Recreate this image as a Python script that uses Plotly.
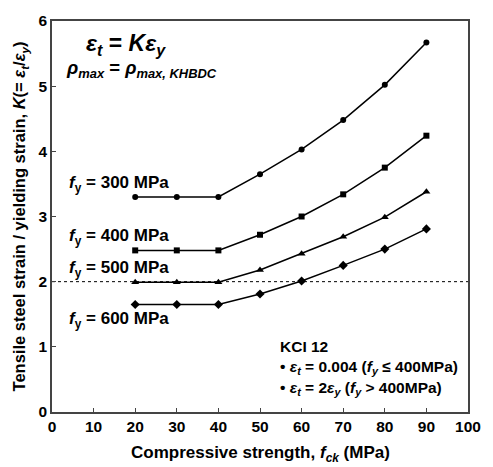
import plotly.graph_objects as go

fck = [20, 30, 40, 50, 60, 70, 80, 90]
k_fy300 = [3.30, 3.30, 3.30, 3.65, 4.03, 4.48, 5.02, 5.67]
k_fy400 = [2.48, 2.48, 2.48, 2.72, 3.00, 3.34, 3.75, 4.24]
k_fy500 = [1.99, 1.99, 1.99, 2.18, 2.43, 2.69, 2.99, 3.38]
k_fy600 = [1.65, 1.65, 1.65, 1.81, 2.01, 2.25, 2.50, 2.81]
series_labels = ["300", "400", "500", "600"]
label_y = [3.50, 2.69, 2.20, 1.41]
x_ticks = [0, 10, 20, 30, 40, 50, 60, 70, 80, 90, 100]
y_ticks = [0, 1, 2, 3, 4, 5, 6]
ref_k = 2.0

FONT = "Liberation Sans, Arial, sans-serif"
series = [(k_fy300, "circle", 6), (k_fy400, "square", 6), (k_fy500, "triangle-up", 7), (k_fy600, "diamond", 7)]

fig = go.Figure()
fig.add_trace(go.Scatter(x=[0, 100], y=[ref_k, ref_k], mode="lines",
                         line=dict(color="black", width=1, dash="dot"), showlegend=False))
for ys, sym, sz in series:
    fig.add_trace(go.Scatter(x=fck, y=ys, mode="lines+markers",
                             line=dict(color="black", width=1.5),
                             marker=dict(symbol=sym, size=sz, color="black"),
                             showlegend=False))

for lab, ly in zip(series_labels, label_y):
    fig.add_annotation(x=3.5, y=ly, xref="x", yref="y", xanchor="left", yanchor="middle",
                       text=f"<b><i>f</i><sub>y</sub> = {lab} MPa</b>", showarrow=False,
                       font=dict(family=FONT, size=17, color="black"))

fig.add_annotation(x=7.7, y=5.64, xref="x", yref="y", xanchor="left", yanchor="middle",
                   text="<b><i>ε<sub>t</sub></i> = <i>Kε<sub>y</sub></i></b>", showarrow=False,
                   font=dict(family=FONT, size=23, color="black"))
fig.add_annotation(x=3.0, y=5.26, xref="x", yref="y", xanchor="left", yanchor="middle",
                   text="<b><i>ρ<sub>max</sub></i> = <i>ρ<sub>max, KHBDC</sub></i></b>", showarrow=False,
                   font=dict(family=FONT, size=18.5, color="black"))

fig.add_annotation(x=54.3, y=1.01, xref="x", yref="y", xanchor="left", yanchor="middle",
                   text="<b>KCI 12</b>", showarrow=False,
                   font=dict(family=FONT, size=15.5, color="black"))
fig.add_annotation(x=54.3, y=0.68, xref="x", yref="y", xanchor="left", yanchor="middle",
                   text="<b>• <i>ε<sub>t</sub></i> = 0.004 (<i>f<sub>y</sub></i> ≤ 400MPa)</b>", showarrow=False,
                   font=dict(family=FONT, size=15.5, color="black"))
fig.add_annotation(x=54.3, y=0.36, xref="x", yref="y", xanchor="left", yanchor="middle",
                   text="<b>• <i>ε<sub>t</sub></i> = 2<i>ε<sub>y</sub></i> (<i>f<sub>y</sub></i> &gt; 400MPa)</b>", showarrow=False,
                   font=dict(family=FONT, size=15.5, color="black"))

# axis titles
fig.add_annotation(x=0.5, y=-0.108, xref="paper", yref="paper", xanchor="center", yanchor="middle",
                   text="<b>Compressive strength, <i>f<sub>ck</sub></i> (MPa)</b>", showarrow=False,
                   font=dict(family=FONT, size=17, color="black"))
fig.add_annotation(x=-0.077, y=0.5, xref="paper", yref="paper", xanchor="center", yanchor="middle",
                   textangle=-90,
                   text="<b>Tensile steel strain / yielding strain, <i>K</i>(= <i>ε<sub>t</sub></i>/<i>ε<sub>y</sub></i>)</b>",
                   showarrow=False, font=dict(family=FONT, size=16.5, color="black"))

axis_common = dict(showgrid=False, zeroline=False, showline=True, linecolor="#444", linewidth=1.5,
                   mirror=True, ticks="inside", ticklen=4, tickcolor="#444",
                   tickfont=dict(family=FONT, size=15.5, color="black"))
fig.update_xaxes(range=[0, 100], tickvals=x_ticks, ticktext=[f"<b>{t}</b>" for t in x_ticks], **axis_common)
fig.update_yaxes(range=[0, 6], tickvals=y_ticks, ticktext=[f"<b>{t}</b>" for t in y_ticks], **axis_common)

fig.update_layout(width=493, height=467, margin=dict(l=52, r=12, t=13, b=55),
                  plot_bgcolor="white", paper_bgcolor="white", showlegend=False)
fig.write_html("out.html")
